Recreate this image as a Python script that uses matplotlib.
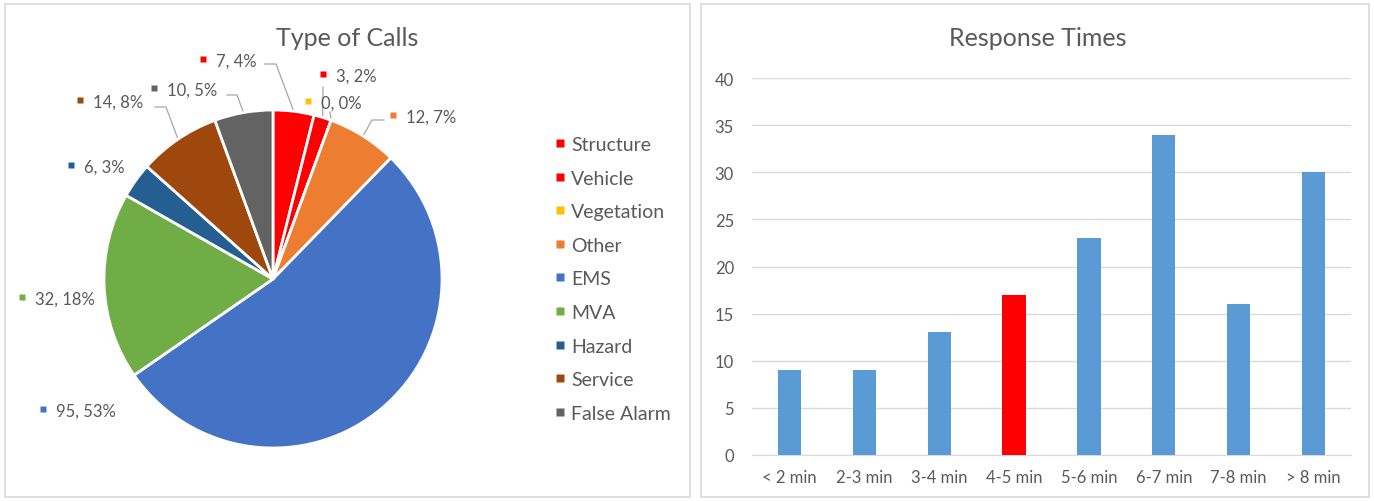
import matplotlib.pyplot as plt
import numpy as np
from matplotlib.patches import Rectangle

plt.rcParams['font.family'] = ['Lato', 'DejaVu Sans']

# Data
call_types = ['Structure', 'Vehicle', 'Vegetation', 'Other', 'EMS', 'MVA',
              'Hazard', 'Service', 'False Alarm']
call_counts = [7, 3, 0, 12, 95, 32, 6, 14, 10]
call_pcts = [4, 2, 0, 7, 53, 18, 3, 8, 5]
call_colors = ['#FF0000', '#FF0000', '#FFC000', '#ED7D31', '#4472C4',
               '#70AD47', '#255E91', '#9E480E', '#636363']

time_bins = ['< 2 min', '2-3 min', '3-4 min', '4-5 min', '5-6 min',
             '6-7 min', '7-8 min', '> 8 min']
time_counts = [9, 9, 13, 17, 23, 34, 16, 30]
highlight_bin = '4-5 min'

TXT = '#595959'
W, H = 1374, 502

fig = plt.figure(figsize=(W / 100, H / 100), dpi=100)

# overlay axes in pixel coordinates (y measured from the top)
ov = fig.add_axes([0, 0, 1, 1])
ov.set_xlim(0, W)
ov.set_ylim(H, 0)
ov.set_axis_off()

# panel borders
ov.add_patch(Rectangle((5, 5), 685, 493, fill=False, ec='#D9D9D9', lw=1.2))
ov.add_patch(Rectangle((701, 5), 668, 493, fill=False, ec='#D9D9D9', lw=1.2))

# ---- pie chart ----
cx, cy, r = 273, 280, 169
pie_ax = fig.add_axes([0, 0, 1, 1])
pie_ax.set_axis_off()
pie_ax.pie(call_counts, colors=call_colors, startangle=90, counterclock=False,
           center=(cx, H - cy), radius=r,
           wedgeprops=dict(edgecolor='white', linewidth=2))
pie_ax.set_xlim(0, W)
pie_ax.set_ylim(0, H)
pie_ax.set_aspect('auto')

ov.text(347, 39, 'Type of Calls', ha='center', va='center', fontsize=18, color=TXT)

# label layout: marker position, leader (start, elbow) or None
label_pos = [(203, 60), (323, 75), (308, 102), (393, 116), (43, 410),
             (22, 298), (71, 166), (80, 101), (154, 89)]
leaders = [((265, 65), (276, 65)), ((323, 88), (323, 88)), ((330, 113), (330, 113)),
           ((384, 121), (372, 121)), None, None, None,
           ((155, 108), (166, 108)), ((227, 96), (237, 96))]

total = sum(call_counts)
cum = np.cumsum([0] + call_counts)
for i, (v, p) in enumerate(zip(call_counts, call_pcts)):
    mx, my = label_pos[i]
    ov.plot(mx, my, marker='s', ms=5, color=call_colors[i], mec='none')
    ov.text(mx + 13, my + 1.5, f'{v}, {p}%', ha='left', va='center', fontsize=12, color=TXT)
    if leaders[i] is not None:
        mid = (cum[i] + cum[i + 1]) / 2 / total * 2 * np.pi
        ex, ey = cx + r * np.sin(mid), cy - r * np.cos(mid)
        (sx, sy), (bx, by) = leaders[i]
        ov.plot([sx, bx, ex], [sy, by, ey], color='#A6A6A6', lw=0.9)

# legend
for i, name in enumerate(call_types):
    y = 144 + i * 33.6
    ov.plot(560, y, marker='s', ms=5.5, color=call_colors[i], mec='none')
    ov.text(571, y + 1.5, name, ha='left', va='center', fontsize=14, color=TXT)

# ---- bar chart ----
x0, x1, y0, y1 = 752, 1351, 456, 79
bax = fig.add_axes([x0 / W, (H - y0) / H, (x1 - x0) / W, (y0 - y1) / H])
bar_colors = ['#FF0000' if b == highlight_bin else '#5B9BD5' for b in time_bins]
bax.bar(np.arange(len(time_bins)), time_counts, width=0.31, color=bar_colors, zorder=3)
bax.set_xlim(-0.5, len(time_bins) - 0.5)
bax.set_ylim(0, 40)
bax.set_yticks(range(0, 41, 5))
bax.set_xticks(np.arange(len(time_bins)))
bax.set_xticklabels(time_bins)
bax.grid(axis='y', color='#D9D9D9', lw=1, zorder=0)
for s in ['top', 'right', 'left']:
    bax.spines[s].set_visible(False)
bax.spines['bottom'].set_color('#D9D9D9')
bax.tick_params(length=0, colors=TXT, labelsize=12)
bax.tick_params(axis='x', pad=10)
bax.tick_params(axis='y', pad=13)
bax.set_facecolor('none')

ov.text(1038, 39, 'Response Times', ha='center', va='center', fontsize=18, color=TXT)

fig.savefig('out.png', dpi=100)
